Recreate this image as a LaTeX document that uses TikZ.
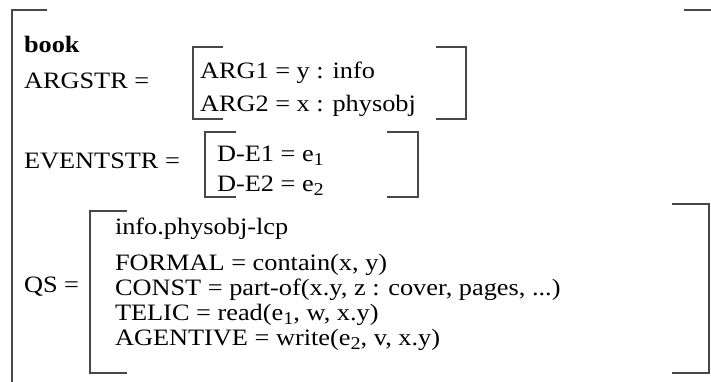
\documentclass[tikz,border=0pt]{standalone}
\usepackage{fontspec}
\setmainfont[FakeStretch=1.12]{Liberation Serif}
\newcommand{\sbs}[1]{\raisebox{-0.2em}{\fontsize{18}{18}\selectfont #1}}
\begin{document}
\begin{tikzpicture}[x=1pt,y=-1pt,
  txt/.style={anchor=base west,inner sep=0pt,outer sep=0pt,font=\fontsize{23.5}{28}\selectfont},
  brk/.style={draw=black!72,line width=1.1pt}]
\useasboundingbox (0,0) rectangle (711,381);
% texts
\node[txt] (book) at (24,52) {\textbf{book}};
\node[txt] (argstr) at (24,88) {ARGSTR =};
\node[txt] (arg1) at (200,78) {ARG1 = y : info};
\node[txt] (arg2) at (200,111) {ARG2 = x : physobj};
\node[txt] (evstr) at (24,168) {EVENTSTR =};
\node[txt] (de1) at (217,161) {D-E1 = e\sbs{1}};
\node[txt] (de2) at (217,191) {D-E2 = e\sbs{2}};
\node[txt] (qs) at (24,292) {QS =};
\node[txt] (lcp) at (115,234) {info.physobj-lcp};
\node[txt] (formal) at (115,270) {FORMAL = contain(x, y)};
\node[txt] (const) at (115,295) {CONST = part-of(x.y, z : cover, pages, ...)};
\node[txt] (telic) at (115,320) {TELIC = read(e\sbs{1}, w, x.y)};
\node[txt] (agent) at (115,345) {AGENTIVE = write(e\sbs{2}, v, x.y)};
% outer brackets
\draw[brk] (47,10) -- (12,10) -- (12,385);
\draw[brk] (684,10) -- (715,10);
% ARGSTR brackets
\draw[brk] (223,47) -- (193,47) -- (193,119) -- (223,119);
\draw[brk] (436,47) -- (466,47) -- (466,119) -- (436,119);
% EVENTSTR brackets
\draw[brk] (236,132) -- (205,132) -- (205,197) -- (236,197);
\draw[brk] (387,132) -- (418,132) -- (418,197) -- (387,197);
% QS brackets
\draw[brk] (127,211) -- (90,211) -- (90,373) -- (127,373);
\draw[brk] (672,204) -- (709,204) -- (709,373) -- (672,373);
\end{tikzpicture}
\end{document}
